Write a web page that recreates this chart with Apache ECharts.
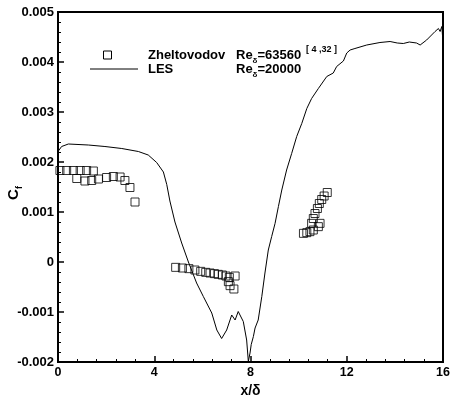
<!DOCTYPE html>
<html>
<head>
<meta charset="utf-8">
<script src="https://cdn.jsdelivr.net/npm/echarts@6/dist/echarts.min.js"></script>
<style>html,body{margin:0;padding:0;background:#fff;}#c{width:452px;height:400px;}</style>
</head>
<body>
<div id="c"></div>
<script>
// Experimental data (Zheltovodov, Re_delta = 63560)
const expX = [0.08,0.36,0.64,0.92,1.19,1.47,0.78,1.12,1.40,1.68,2.02,2.30,2.58,2.78,2.99,3.20,
  4.89,5.17,5.44,5.69,5.93,6.14,6.32,6.50,6.66,6.83,6.98,7.12,7.36,7.08,7.15,7.31,
  10.20,10.34,10.47,10.61,10.82,10.89,10.54,10.61,10.68,10.78,10.86,10.96,11.06,11.19];
const expCf = [0.00183,0.00183,0.00183,0.00183,0.00183,0.00182,0.00167,0.00162,0.00163,0.00166,0.00169,0.00171,0.00170,0.00163,0.00149,0.00120,
  -0.000107,-0.00012,-0.000133,-0.00016,-0.000187,-0.000207,-0.00022,-0.000233,-0.000247,-0.00026,-0.00028,-0.000307,-0.00028,-0.000393,-0.000473,-0.00054,
  0.000573,0.000587,0.000607,0.00064,0.000707,0.000773,0.000773,0.00087,0.00097,0.00107,0.00117,0.00125,0.00132,0.00139];
// LES (Re_delta = 20000)
const lesX = [0,0.15,0.43,1.26,1.95,2.65,3.34,3.75,4.10,4.38,4.52,4.65,4.86,5.14,5.42,5.76,6.04,6.39,6.60,6.80,7.01,7.22,7.36,7.49,7.70,7.84,7.91,7.98,8.03,8.12,8.19,8.32,8.47,8.60,8.74,8.88,9.02,9.16,9.30,9.50,9.71,9.92,10.13,10.34,10.54,10.82,11.17,11.44,11.58,11.86,12.0,12.14,12.34,12.83,13.38,13.8,14.1,14.35,14.6,14.9,15.05,15.32,15.67,15.81,15.88,15.95,16];
const lesCf = [0.00221,0.00231,0.00236,0.00234,0.00231,0.00227,0.00221,0.00214,0.00199,0.00180,0.00155,0.00122,0.00080,0.00038,0.0000,-0.00042,-0.00069,-0.00102,-0.00136,-0.00153,-0.00136,-0.00106,-0.00116,-0.00099,-0.00119,-0.00156,-0.00199,-0.00182,-0.00165,-0.00149,-0.00132,-0.00116,-0.00069,-0.00022,0.00024,0.00051,0.00077,0.00111,0.00144,0.00184,0.00217,0.00251,0.00277,0.00307,0.00327,0.00347,0.00371,0.00378,0.00391,0.00402,0.00418,0.00424,0.00427,0.00434,0.00439,0.00441,0.00438,0.00437,0.00440,0.00438,0.00434,0.00444,0.00461,0.00467,0.00461,0.00471,0.00440];
const seriesNames = ['Zheltovodov', 'LES'];
const reValues = ['63560', '20000'];
const refNote = '[ 4 ,32 ]';
const yTitle = 'C{s|f}';

const FONT = 'Liberation Sans, Arial, Helvetica, sans-serif';
const chart = echarts.init(document.getElementById('c'), null, {renderer: 'canvas'});
const pair = (xs, ys) => xs.map((x, i) => [x, ys[i]]);
const reRich = {
  s: {fontSize: 8, fontWeight: 'bold', fontFamily: FONT, verticalAlign: 'bottom', lineHeight: 10, padding: [0, 0, -3, 0]}
};
chart.setOption({
  animation: false,
  backgroundColor: '#fff',
  grid: {left: 58, right: 9, top: 12, bottom: 38, show: true, borderColor: '#000', borderWidth: 2,
    containLabel: false, outerBoundsMode: 'none'},
  xAxis: {
    type: 'value', min: 0, max: 16, interval: 4,
    name: 'x/δ', nameLocation: 'middle', nameGap: 17,
    nameTextStyle: {color: '#000', fontSize: 14, fontWeight: 'bold', fontFamily: FONT},
    axisLine: {show: true, onZero: false, lineStyle: {color: '#000', width: 2}},
    axisTick: {show: true, inside: true, length: 6, lineStyle: {color: '#000', width: 1.5}},
    minorTick: {show: true, splitNumber: 5, length: 3, lineStyle: {color: '#000', width: 1}},
    splitLine: {show: false},
    axisLabel: {color: '#000', fontSize: 12.5, fontWeight: 'bold', fontFamily: FONT, margin: 4}
  },
  yAxis: {
    type: 'value', min: -0.002, max: 0.005, interval: 0.001,
    axisLine: {show: true, onZero: false, lineStyle: {color: '#000', width: 2}},
    axisTick: {show: true, inside: true, length: 6, lineStyle: {color: '#000', width: 1.5}},
    minorTick: {show: true, splitNumber: 5, length: 3, lineStyle: {color: '#000', width: 1}},
    splitLine: {show: false},
    axisLabel: {color: '#000', fontSize: 13, fontWeight: 'bold', fontFamily: FONT, margin: 4,
      formatter: v => String(Math.round(v * 1000) / 1000)}
  },
  series: [
    {
      name: seriesNames[1], type: 'line', data: pair(lesX, lesCf), symbol: 'none',
      lineStyle: {color: '#000', width: 1}, z: 2, clip: true
    },
    {
      name: seriesNames[0], type: 'scatter', data: pair(expX, expCf), symbol: 'rect', symbolSize: 8,
      itemStyle: {color: 'rgba(0,0,0,0)', borderColor: '#000', borderWidth: 1}, z: 3
    }
  ],
  graphic: [
    {type: 'rect', shape: {x: 103.5, y: 51, width: 8, height: 8}, style: {fill: 'none', stroke: '#000', lineWidth: 1}},
    {type: 'line', shape: {x1: 90, y1: 69, x2: 138, y2: 69}, style: {stroke: '#000', lineWidth: 1}},
    {type: 'text', x: 148, y: 55, style: {text: seriesNames[0], font: 'bold 13px ' + FONT, fill: '#000', verticalAlign: 'middle'}},
    {type: 'text', x: 148, y: 69, style: {text: seriesNames[1], font: 'bold 13px ' + FONT, fill: '#000', verticalAlign: 'middle'}},
    {type: 'text', x: 236, y: 55, style: {text: 'Re{s|δ}=' + reValues[0], font: 'bold 13px ' + FONT, fill: '#000', verticalAlign: 'middle', rich: reRich}},
    {type: 'text', x: 236, y: 69, style: {text: 'Re{s|δ}=' + reValues[1], font: 'bold 13px ' + FONT, fill: '#000', verticalAlign: 'middle', rich: reRich}},
    {type: 'text', x: 306, y: 50, style: {text: refNote, font: 'bold 9px ' + FONT, fill: '#000', verticalAlign: 'middle'}},
    {type: 'text', x: 14, y: 193, rotation: Math.PI / 2,
      style: {text: yTitle, font: 'bold 15px ' + FONT, fill: '#000', align: 'center', verticalAlign: 'middle',
        rich: {s: {fontSize: 9, fontWeight: 'bold', fontFamily: FONT, verticalAlign: 'bottom', lineHeight: 10, padding: [0, 0, -3, 0]}}}}
  ]
});
</script>
</body>
</html>
